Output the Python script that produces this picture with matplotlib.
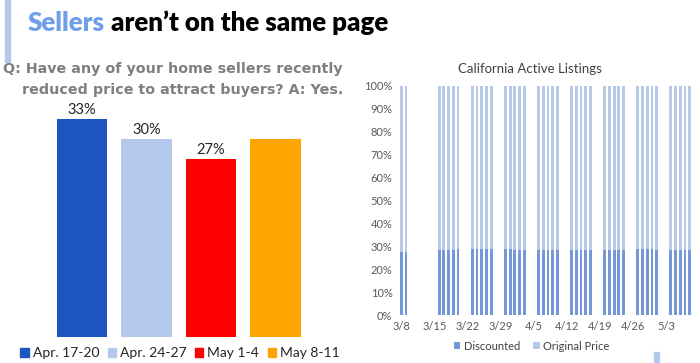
import matplotlib
matplotlib.use("Agg")
import matplotlib.pyplot as plt
import matplotlib.dates as mdates
from matplotlib.patches import Rectangle
import numpy as np
import datetime as dt

# ---------------- data ----------------
survey_periods = ["Apr. 17-20", "Apr. 24-27", "May 1-4", "May 8-11"]
survey_yes = [33, 30, 27, 30]
survey_labels = ["33%", "30%", "27%", ""]
survey_colors = ["#1f55c0", "#b4c8ee", "#ff0000", "#ffa400"]

listing_dates = [
    "2020-03-08", "2020-03-09",
    "2020-03-16", "2020-03-17", "2020-03-18", "2020-03-19", "2020-03-20",
    "2020-03-23", "2020-03-24", "2020-03-25", "2020-03-26", "2020-03-27",
    "2020-03-30", "2020-03-31", "2020-04-01", "2020-04-02", "2020-04-03",
    "2020-04-06", "2020-04-07", "2020-04-08", "2020-04-09", "2020-04-10",
    "2020-04-13", "2020-04-14", "2020-04-15", "2020-04-16", "2020-04-17",
    "2020-04-20", "2020-04-21", "2020-04-22", "2020-04-23", "2020-04-24",
    "2020-04-27", "2020-04-28", "2020-04-29", "2020-04-30", "2020-05-01",
    "2020-05-04", "2020-05-05", "2020-05-06", "2020-05-07", "2020-05-08",
]
discounted = [
    0.276, 0.275,
    0.285, 0.286, 0.286, 0.286, 0.287,
    0.289, 0.289, 0.289, 0.289, 0.289,
    0.289, 0.288, 0.286, 0.285, 0.285,
    0.285, 0.285, 0.285, 0.285, 0.285,
    0.284, 0.284, 0.284, 0.284, 0.284,
    0.285, 0.285, 0.285, 0.285, 0.285,
    0.288, 0.288, 0.289, 0.288, 0.284,
    0.284, 0.284, 0.283, 0.283, 0.283,
]
original_price = [1 - d for d in discounted]
week_ticks = ["2020-03-08", "2020-03-15", "2020-03-22", "2020-03-29", "2020-04-05",
              "2020-04-12", "2020-04-19", "2020-04-26", "2020-05-03"]

FONT = ["Lato", "DejaVu Sans"]
plt.rcParams["font.family"] = FONT

W, H = 700, 363
fig = plt.figure(figsize=(W / 100, H / 100), dpi=100)

def fx(px):
    return px / W

def fy(py):
    return 1 - py / H

fig.canvas.draw()
r = fig.canvas.get_renderer()

def fit(t, target_w):
    bb = t.get_window_extent(r)
    t.set_fontsize(t.get_fontsize() * target_w / bb.width)

# decorative bars
fig.patches.append(Rectangle((fx(5), fy(62)), fx(5), 62 / H, color="#b4c8ee",
                             transform=fig.transFigure, zorder=0))
fig.patches.append(Rectangle((fx(654), fy(363)), fx(5), 11 / H, color="#b4c8ee",
                             transform=fig.transFigure, zorder=0))

# title (fit total width to 28..388 px)
tfam = ["Lato", "DejaVu Sans"]
probe = fig.text(0, 0, "Sellers aren\u2019t on the same page", fontsize=18,
                 fontweight="heavy", family=tfam)
fit(probe, 360)
tsize = probe.get_fontsize()
probe.remove()
t1 = fig.text(fx(28), fy(31), "Sellers", fontsize=tsize, fontweight="heavy",
              color="#6f9fe8", family=tfam, va="baseline")
bb = t1.get_window_extent(r)
fig.text(bb.x1 / W, fy(31), " aren\u2019t on the same page", fontsize=tsize,
         fontweight="heavy", color="black", family=tfam, va="baseline")

# subtitle
s1 = fig.text(fx(343), fy(69), "Q: Have any of your home sellers recently", fontsize=11,
              fontweight="bold", color="#7f7f7f", ha="right", va="center",
              family=["DejaVu Sans"])
fit(s1, 338)
fig.text(fx(343), fy(90), "reduced price to attract buyers? A: Yes.",
         fontsize=s1.get_fontsize(), fontweight="bold", color="#7f7f7f", ha="right",
         va="center", family=["DejaVu Sans"])

# ---------------- left chart ----------------
axL = fig.add_axes([fx(49.75), fy(337), fx(307.75) - fx(49.75), fy(106) - fy(337)])
x = np.arange(len(survey_periods))
axL.bar(x, survey_yes, width=0.786, color=survey_colors)
for xi, v, lab in zip(x, survey_yes, survey_labels):
    if lab:
        axL.text(xi, v + 0.3, lab, ha="center", va="bottom", fontsize=10.5,
                 color="#262626")
axL.set_xlim(-0.5, 3.5)
axL.set_ylim(0, 35)
axL.axis("off")

handles = [Rectangle((0, 0), 1, 1, color=c) for c in survey_colors]
fig.legend(handles, survey_periods, loc="center", bbox_to_anchor=(fx(180), fy(353)),
           ncol=4, frameon=False, fontsize=10, handlelength=0.6, handleheight=0.6,
           handletextpad=0.3, columnspacing=0.6, labelcolor="#262626")

# ---------------- right chart ----------------
axR = fig.add_axes([fx(398), fy(315), fx(695) - fx(398), fy(86) - fy(315)])
dates = [dt.datetime.strptime(d, "%Y-%m-%d") for d in listing_dates]
xd = mdates.date2num(dates)
axR.bar(xd, discounted, width=0.6, color="#7397d8", label="Discounted")
axR.bar(xd, original_price, bottom=discounted, width=0.6, color="#b7c9e9",
        label="Original Price")
x0 = mdates.date2num(dt.datetime(2020, 3, 7))
x1 = mdates.date2num(dt.datetime(2020, 5, 9))
axR.set_xlim(x0 + 0.3, x1 + 0.1)
axR.set_ylim(0, 1)
axR.set_yticks(np.arange(0, 1.01, 0.1))
axR.set_yticklabels([f"{int(round(v * 100))}%" for v in np.arange(0, 1.01, 0.1)])
tick_dates = [dt.datetime.strptime(d, "%Y-%m-%d") for d in week_ticks]
axR.set_xticks(mdates.date2num(tick_dates))
axR.set_xticklabels([f"{d.month}/{d.day}" for d in tick_dates])
axR.tick_params(length=0, labelsize=8, labelcolor="#595959", pad=4)
for s in axR.spines.values():
    s.set_visible(False)
fig.text(fx(530), fy(69), "California Active Listings", fontsize=9.5, color="#404040",
         ha="center", va="center")
axR.legend(loc="center", bbox_to_anchor=(0.45, (fy(346) - fy(315)) / (fy(86) - fy(315))),
           bbox_transform=axR.transAxes, ncol=2, frameon=False, fontsize=8,
           handlelength=0.6, handleheight=0.6, handletextpad=0.3, columnspacing=1.2,
           labelcolor="#404040")

fig.savefig("out.png", dpi=100)
